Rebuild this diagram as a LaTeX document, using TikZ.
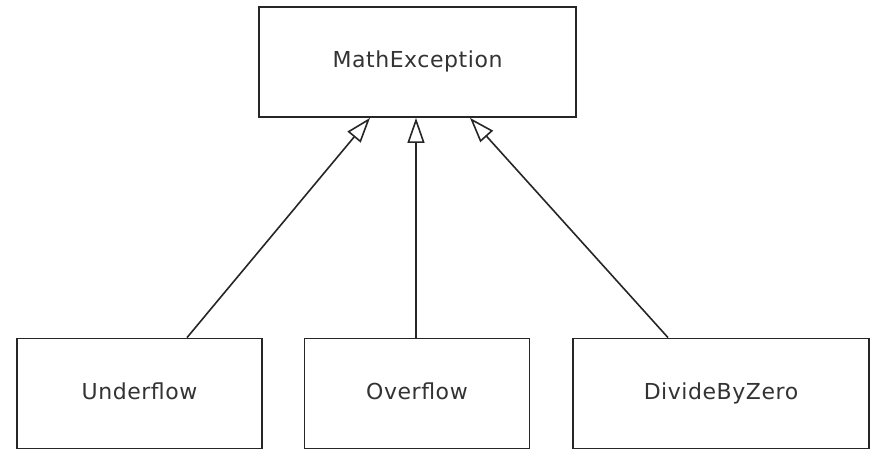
\documentclass[tikz,border=0pt]{standalone}
\usepackage{fontspec}
\setmainfont[LetterSpace=2.5]{DejaVu Sans}
\usetikzlibrary{arrows.meta}
\begin{document}
\begin{tikzpicture}[x=1pt,y=-1pt,
  classbox/.style={draw=black!85, line width=1.8pt, fill=white, minimum height=110pt, inner sep=0pt,
    text height=16pt, text depth=5pt,
    font=\fontsize{22}{26}\selectfont, text=black!80},
  inherit/.style={line width=1.6pt, draw=black!85, -{Triangle[open, length=25pt, width=17pt, fill=white, line width=1.6pt]}}]
\useasboundingbox (0,0) rectangle (873,448);
\node[classbox, minimum width=317pt] (m) at (417.5,62) {MathException};
\node[classbox, minimum width=245pt] (u) at (139.5,393.5) {Underflow};
\node[classbox, minimum width=225pt] (o) at (417,393.5) {Overflow};
\node[classbox, minimum width=296pt] (d) at (721,393.5) {DivideByZero};
\coordinate (ux) at (187,0);
\coordinate (ox) at (416,0);
\coordinate (dx) at (668,0);
\coordinate (mux) at (370,0);
\coordinate (mox) at (416,0);
\coordinate (mdx) at (470,0);
\draw[inherit] (u.north -| ux) -- (m.south -| mux);
\draw[inherit] (o.north -| ox) -- (m.south -| mox);
\draw[inherit] (d.north -| dx) -- (m.south -| mdx);
\end{tikzpicture}
\end{document}
